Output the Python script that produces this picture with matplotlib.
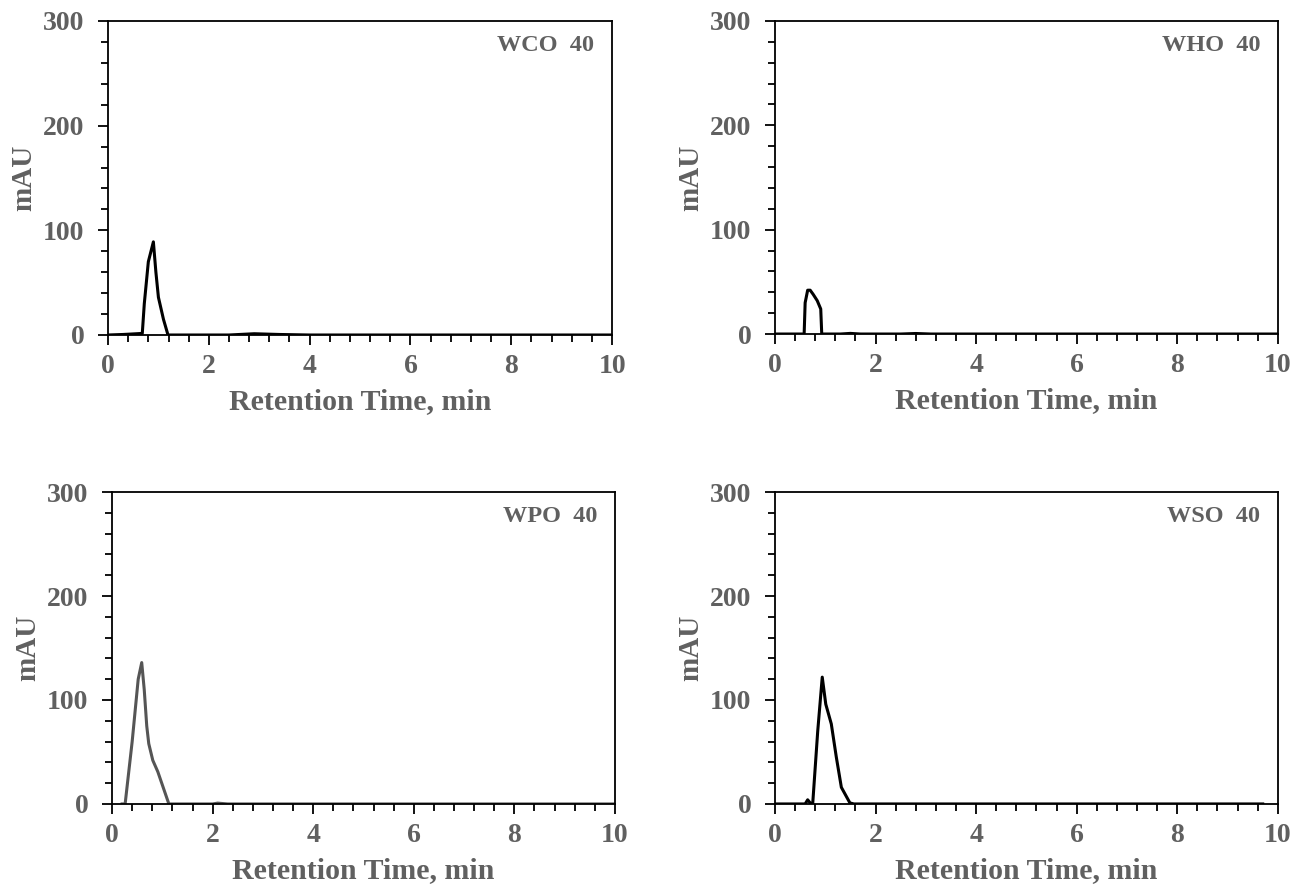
import matplotlib
matplotlib.use('Agg')
import matplotlib.pyplot as plt
from matplotlib.ticker import MultipleLocator

plt.rcParams['font.family'] = ['Liberation Serif', 'DejaVu Serif']
plt.rcParams['font.weight'] = 'bold'
plt.rcParams['axes.labelweight'] = 'bold'

GREY = '#606060'

# chromatogram traces (time in min, signal in mAU)
wco_t = [0, 0.3, 0.68, 0.72, 0.8, 0.9, 0.95, 1.0, 1.1, 1.19, 1.5, 2.4, 2.9, 3.4, 4.0, 10]
wco_y = [0, 0.5, 1.5, 30, 70, 89, 60, 36, 15, 0, 0, 0, 1.2, 0.5, 0, 0]

who_t = [0, 0.58, 0.6, 0.65, 0.7, 0.76, 0.84, 0.91, 0.93, 1.3, 1.5, 1.7, 2.5, 2.8, 3.1, 10]
who_y = [0, 0, 30, 42, 42, 38, 32, 24, 0, 0, 0.6, 0, 0, 0.5, 0, 0]

wpo_t = [0.2, 0.26, 0.4, 0.52, 0.59, 0.64, 0.69, 0.73, 0.81, 0.91, 1.13, 2.0, 2.1, 2.3, 10]
wpo_y = [0, 0, 60, 120, 136, 110, 75, 58, 42, 31, 0, 0, 0.8, 0, 0]

wso_t = [0, 0.6, 0.65, 0.7, 0.75, 0.85, 0.94, 1.01, 1.12, 1.22, 1.32, 1.49, 1.57, 9.7]
wso_y = [0, 0, 4, 1, 0, 70, 122, 96, 77, 45, 16, 1, 0, 0]

panels = [
    ('WCO  40', wco_t, wco_y, 'black', [0.0827, 0.6219, 0.386, 0.3544]),
    ('WHO  40', who_t, who_y, 'black', [0.5934, 0.6230, 0.385, 0.3533]),
    ('WPO  40', wpo_t, wpo_y, '#555555', [0.0858, 0.0926, 0.385, 0.3520]),
    ('WSO  40', wso_t, wso_y, 'black', [0.5934, 0.0926, 0.385, 0.3520]),
]

fig = plt.figure(figsize=(13.06, 8.86), dpi=100, facecolor='white')

for name, t, y, col, pos in panels:
    ax = fig.add_axes(pos)
    ax.plot(t, y, color=col, linewidth=2.2)
    ax.set_xlim(0, 10)
    ax.set_ylim(0, 300)
    ax.xaxis.set_major_locator(MultipleLocator(2))
    ax.xaxis.set_minor_locator(MultipleLocator(0.4))
    ax.yaxis.set_major_locator(MultipleLocator(100))
    ax.yaxis.set_minor_locator(MultipleLocator(20))
    ax.tick_params(which='both', direction='out', width=1.3, colors='black',
                   labelcolor=GREY, labelsize=20)
    ax.tick_params(which='major', length=7)
    ax.tick_params(axis='x', which='major', pad=7)
    ax.tick_params(axis='y', which='major', pad=10)
    ax.tick_params(which='minor', length=5)
    for sp in ax.spines.values():
        sp.set_linewidth(1.3)
    ax.set_xlabel('Retention Time, min', fontsize=21.5, color=GREY, labelpad=6)
    ax.set_ylabel('mAU', fontsize=21, color=GREY, labelpad=4)
    ax.text(0.965, 0.955, name, transform=ax.transAxes, ha='right', va='top',
            fontsize=17.5, color=GREY, fontweight='bold')

plt.savefig('out.png', dpi=100)
